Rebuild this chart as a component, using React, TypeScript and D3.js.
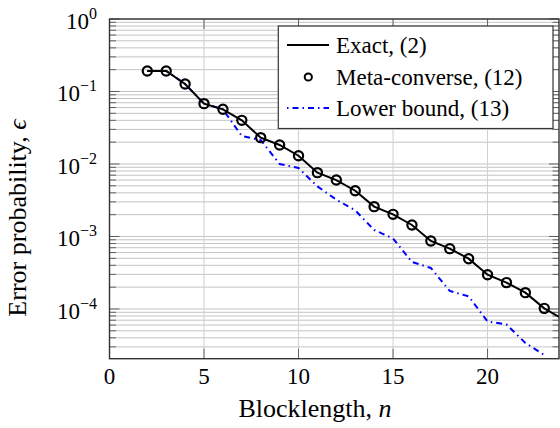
import React from "react";
import * as d3 from "d3";

const blocklengthExact = [2,3,4,5,6,7,8,9,10,11,12,13,14,15,16,17,18,19,20,21,22,23,24];
const exactValues = [0.192,0.192,0.127,0.068,0.0568,0.040,0.0231,0.0183,0.0130,0.0076,0.0060,0.00428,0.00258,0.00202,0.00144,0.000867,0.000679,0.000494,0.000297,0.000231,0.000168,0.000102,0.000072];
const blocklengthMeta = [2,3,4,5,6,7,8,9,10,11,12,13,14,15,16,17,18,19,20,21,22,23];
const metaValues = [0.192,0.192,0.127,0.068,0.0568,0.040,0.0231,0.0183,0.0130,0.0076,0.0060,0.00428,0.00258,0.00202,0.00144,0.000867,0.000679,0.000494,0.000297,0.000231,0.000168,0.000102];
const blocklengthLower = [2,3,4,5,6,7,8,9,10,11,12,13,14,15,16,17,18,19,20,21,22,23];
const lowerValues = [0.192,0.192,0.127,0.068,0.0568,0.0243,0.0214,0.0100,0.0088,0.0049,0.00322,0.00229,0.00123,0.00094,0.000445,0.000368,0.000177,0.000149,0.0000673,0.0000611,0.000034,0.0000232];
const xTicks = [0,5,10,15,20];
const yTickExps = [0,-1,-2,-3,-4];
const legendLabels = ["Exact, (2)", "Meta-converse, (12)", "Lower bound, (13)"];

const W = 560, H = 428;
const L = 109.5, R = 559, T = 19, B = 358.7;
const FF = "Times New Roman";

export default function App() {
  const x = d3.scaleLinear().domain([0, 23.78]).range([L, R]);
  const y = d3.scaleLog().domain([Math.pow(10, -4.686), 1]).range([B, T]);

  const minorVals: number[] = [];
  for (let e = -5; e <= 0; e++) {
    for (let m = 2; m <= 9; m++) {
      const v = m * Math.pow(10, e);
      if (y(v) >= T && y(v) <= B) minorVals.push(v);
    }
  }

  const lineGen = d3.line<[number, number]>().x(d => x(d[0])).y(d => y(d[1]));
  const exactPts = blocklengthExact.map((n, i) => [n, exactValues[i]] as [number, number]);
  const lowerPts = blocklengthLower.map((n, i) => [n, lowerValues[i]] as [number, number]);

  const legX = 278.3, legY = 26, legW = 274.7, legH = 102.5;
  const rowY = [45, 77, 108];

  return (
    <svg width={W} height={H} style={{ position: "absolute", left: 0, top: 0 }}>
      <defs>
        <clipPath id="plotclip"><rect x={L} y={T} width={R - L} height={B - T} /></clipPath>
      </defs>
      <rect x={0} y={0} width={W} height={H} fill="white" />
      {minorVals.map((v, i) => (
        <line key={"mg" + i} x1={L} x2={R} y1={y(v)} y2={y(v)} stroke="#c4c4c4" strokeWidth={1} />
      ))}
      {yTickExps.map(e => (
        <line key={"yg" + e} x1={L} x2={R} y1={y(Math.pow(10, e))} y2={y(Math.pow(10, e))} stroke="#c4c4c4" strokeWidth={1} />
      ))}
      {xTicks.map(t => (
        <line key={"xg" + t} x1={x(t)} x2={x(t)} y1={T} y2={B} stroke="#cfcfcf" strokeWidth={1} />
      ))}
      {minorVals.map((v, i) => (
        <g key={"mt" + i} stroke="#444" strokeWidth={0.8}>
          <line x1={L} x2={L + 6.5} y1={y(v)} y2={y(v)} />
          <line x1={R - 6.5} x2={R} y1={y(v)} y2={y(v)} />
        </g>
      ))}
      {yTickExps.map(e => (
        <g key={"yt" + e} stroke="#444" strokeWidth={0.8}>
          <line x1={L} x2={L + 10} y1={y(Math.pow(10, e))} y2={y(Math.pow(10, e))} />
          <line x1={R - 10} x2={R} y1={y(Math.pow(10, e))} y2={y(Math.pow(10, e))} />
        </g>
      ))}
      {xTicks.map(t => (
        <g key={"xt" + t} stroke="#444" strokeWidth={0.8}>
          <line x1={x(t)} x2={x(t)} y1={B} y2={B - 10} />
          <line x1={x(t)} x2={x(t)} y1={T} y2={T + 10} />
        </g>
      ))}
      <g clipPath="url(#plotclip)">
        <path d={lineGen(lowerPts) || ""} fill="none" stroke="#0000ff" strokeWidth={2} strokeDasharray="6 4 1.5 4" />
        <path d={lineGen(exactPts) || ""} fill="none" stroke="#000" strokeWidth={2} />
        {blocklengthMeta.map((n, i) => (
          <circle key={"c" + i} cx={x(n)} cy={y(metaValues[i])} r={4.6} fill="none" stroke="#000" strokeWidth={2.2} />
        ))}
      </g>
      <rect x={L} y={T} width={R - L} height={B - T} fill="none" stroke="#333" strokeWidth={1.4} />
      <rect x={legX} y={legY} width={legW} height={legH} fill="white" stroke="#333" strokeWidth={1.2} />
      <line x1={287} x2={329} y1={rowY[0]} y2={rowY[0]} stroke="#000" strokeWidth={2} />
      <circle cx={308.3} cy={rowY[1]} r={3.6} fill="none" stroke="#000" strokeWidth={2} />
      <line x1={287} x2={329} y1={rowY[2]} y2={rowY[2]} stroke="#0000ff" strokeWidth={2} strokeDasharray="1.5 4 6 4" />
      {legendLabels.map((s, i) => (
        <text key={"lg" + i} fontFamily={FF} x={336} y={rowY[i] + 8} fontSize={23} fill="#000">{s}</text>
      ))}
      {xTicks.map(t => (
        <text key={"xl" + t} fontFamily={FF} x={x(t)} y={384} fontSize={23} textAnchor="middle" fill="#000">{t}</text>
      ))}
      {yTickExps.map(e => (
        <text key={"yl" + e} fontFamily={FF} x={97} y={y(Math.pow(10, e)) + 10} fontSize={23} textAnchor="end" fill="#000">
          10<tspan fontSize={16} dy={-10}>{e === 0 ? "0" : "\u2212" + Math.abs(e)}</tspan>
        </text>
      ))}
      <text fontFamily={FF} x={315} y={417} fontSize={26} textAnchor="middle" fill="#000">
        Blocklength, <tspan fontStyle="italic">n</tspan>
      </text>
      <text fontFamily={FF} transform={`translate(26,${218}) rotate(-90)`} fontSize={26} textAnchor="middle" fill="#000">
        Error probability, <tspan fontStyle="italic">ϵ</tspan>
      </text>
    </svg>
  );
}
